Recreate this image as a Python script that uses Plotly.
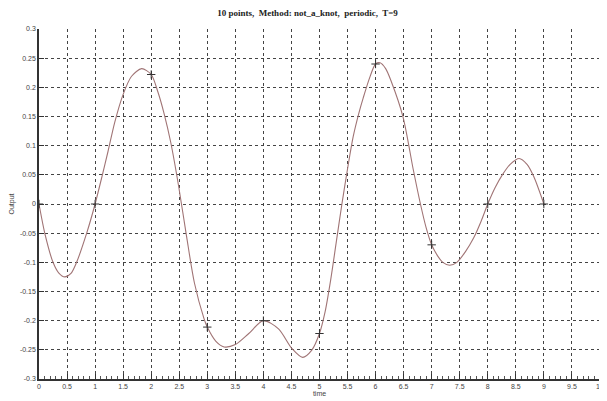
import plotly.graph_objects as go

# Knots (marked with "+")
knot_x = [0, 1, 2, 3, 4, 5, 6, 7, 8, 9]
knot_y = [0.0, 0.0, 0.222, -0.211, -0.200, -0.222, 0.240, -0.070, 0.0, 0.0]

# Curve samples
curve_x = [0.0, 0.11, 0.25, 0.35, 0.46, 0.57, 0.67, 0.85, 1.0, 1.13, 1.23, 1.35, 1.5, 1.65,
           1.83, 2.0, 2.12, 2.23, 2.35, 2.49, 2.63, 2.77, 2.94, 3.0, 3.15, 3.3, 3.5, 3.74,
           4.0, 4.27, 4.51, 4.7, 4.86, 5.0, 5.1, 5.2, 5.3, 5.4, 5.5, 5.6, 5.7, 5.78, 5.9,
           6.0, 6.08, 6.18, 6.28, 6.49, 6.67, 6.8, 6.9, 7.0, 7.1, 7.2, 7.32, 7.45, 7.6, 7.75,
           7.88, 8.0, 8.13, 8.26, 8.4, 8.56, 8.7, 8.82, 9.0]
curve_y = [0.0, -0.053, -0.100, -0.118, -0.125, -0.119, -0.100, -0.050, 0.0, 0.050, 0.090,
           0.140, 0.188, 0.219, 0.232, 0.222, 0.192, 0.155, 0.105, 0.030, -0.055, -0.135,
           -0.196, -0.211, -0.235, -0.245, -0.241, -0.222, -0.200, -0.214, -0.248, -0.263,
           -0.251, -0.222, -0.185, -0.130, -0.065, 0.000, 0.060, 0.115, 0.155, 0.182, 0.218,
           0.240, 0.242, 0.232, 0.210, 0.149, 0.060, 0.000, -0.040, -0.070, -0.088, -0.100,
           -0.105, -0.100, -0.082, -0.058, -0.030, 0.0, 0.028, 0.050, 0.068, 0.078, 0.068,
           0.047, 0.0]

x_ticks = [i * 0.5 for i in range(21)]
x_labels = ["0", "0.5", "1", "1.5", "2", "2.5", "3", "3.5", "4", "4.5", "5", "5.5",
            "6", "6.5", "7", "7.5", "8", "8.5", "9", "9.5", "10"]
y_ticks = [-0.3, -0.25, -0.2, -0.15, -0.1, -0.05, 0, 0.05, 0.1, 0.15, 0.2, 0.25, 0.3]
y_labels = ["-0.3", "-0.25", "-0.2", "-0.15", "-0.1", "-0.05", "0", "0.05", "0.1",
            "0.15", "0.2", "0.25", "0.3"]

fig = go.Figure()
fig.add_trace(go.Scatter(x=curve_x, y=curve_y, mode="lines",
                         line=dict(color="#a07475", width=1.1, shape="spline", smoothing=0.8),
                         showlegend=False, hoverinfo="skip"))
fig.add_trace(go.Scatter(x=knot_x, y=knot_y, mode="markers",
                         marker=dict(symbol="cross-thin", size=6,
                                     line=dict(color="#333333", width=1)),
                         showlegend=False))

axis_font = dict(family="Liberation Sans, Arial", size=7, color="#444444")
# page body has an 8px default margin, so the figure is sized to fit the window
fig.update_layout(
    width=599, height=393,
    margin=dict(l=31, r=7, t=21, b=22, autoexpand=False),
    paper_bgcolor="white", plot_bgcolor="white",
    title=dict(text="<b>10 points,  Method: not_a_knot,  periodic,  T=9</b>",
               x=0.5, xanchor="center", y=0.995, yanchor="top", automargin=False,
               font=dict(family="Liberation Serif, Times New Roman", size=9, color="#222222")),
    xaxis=dict(range=[0, 10.001], tickvals=x_ticks, ticktext=x_labels, tickfont=axis_font,
               automargin=False, ticklabeloverflow="allow",
               showgrid=True, gridcolor="#444444", griddash="dot", gridwidth=1,
               showline=True, linecolor="#333333", linewidth=1.5,
               ticks="inside", ticklen=5, tickcolor="#333333",
               minor=dict(dtick=0.1, ticks="inside", ticklen=3, tickcolor="#555555", showgrid=False),
               zeroline=False,
               title=dict(text="time", font=dict(family="Liberation Sans, Arial", size=7,
                                                 color="#444444"), standoff=2)),
    yaxis=dict(range=[-0.3, 0.3], tickvals=y_ticks, ticktext=y_labels, tickfont=axis_font,
               automargin=False, ticklabeloverflow="allow",
               showgrid=True, gridcolor="#444444", griddash="dot", gridwidth=1,
               showline=True, linecolor="#333333", linewidth=1.5,
               ticks="inside", ticklen=5, tickcolor="#333333",
               zeroline=False,
               title=dict(text="Output", font=dict(family="Liberation Sans, Arial", size=7,
                                                   color="#444444"), standoff=6)),
)
fig.write_html("out.html")
